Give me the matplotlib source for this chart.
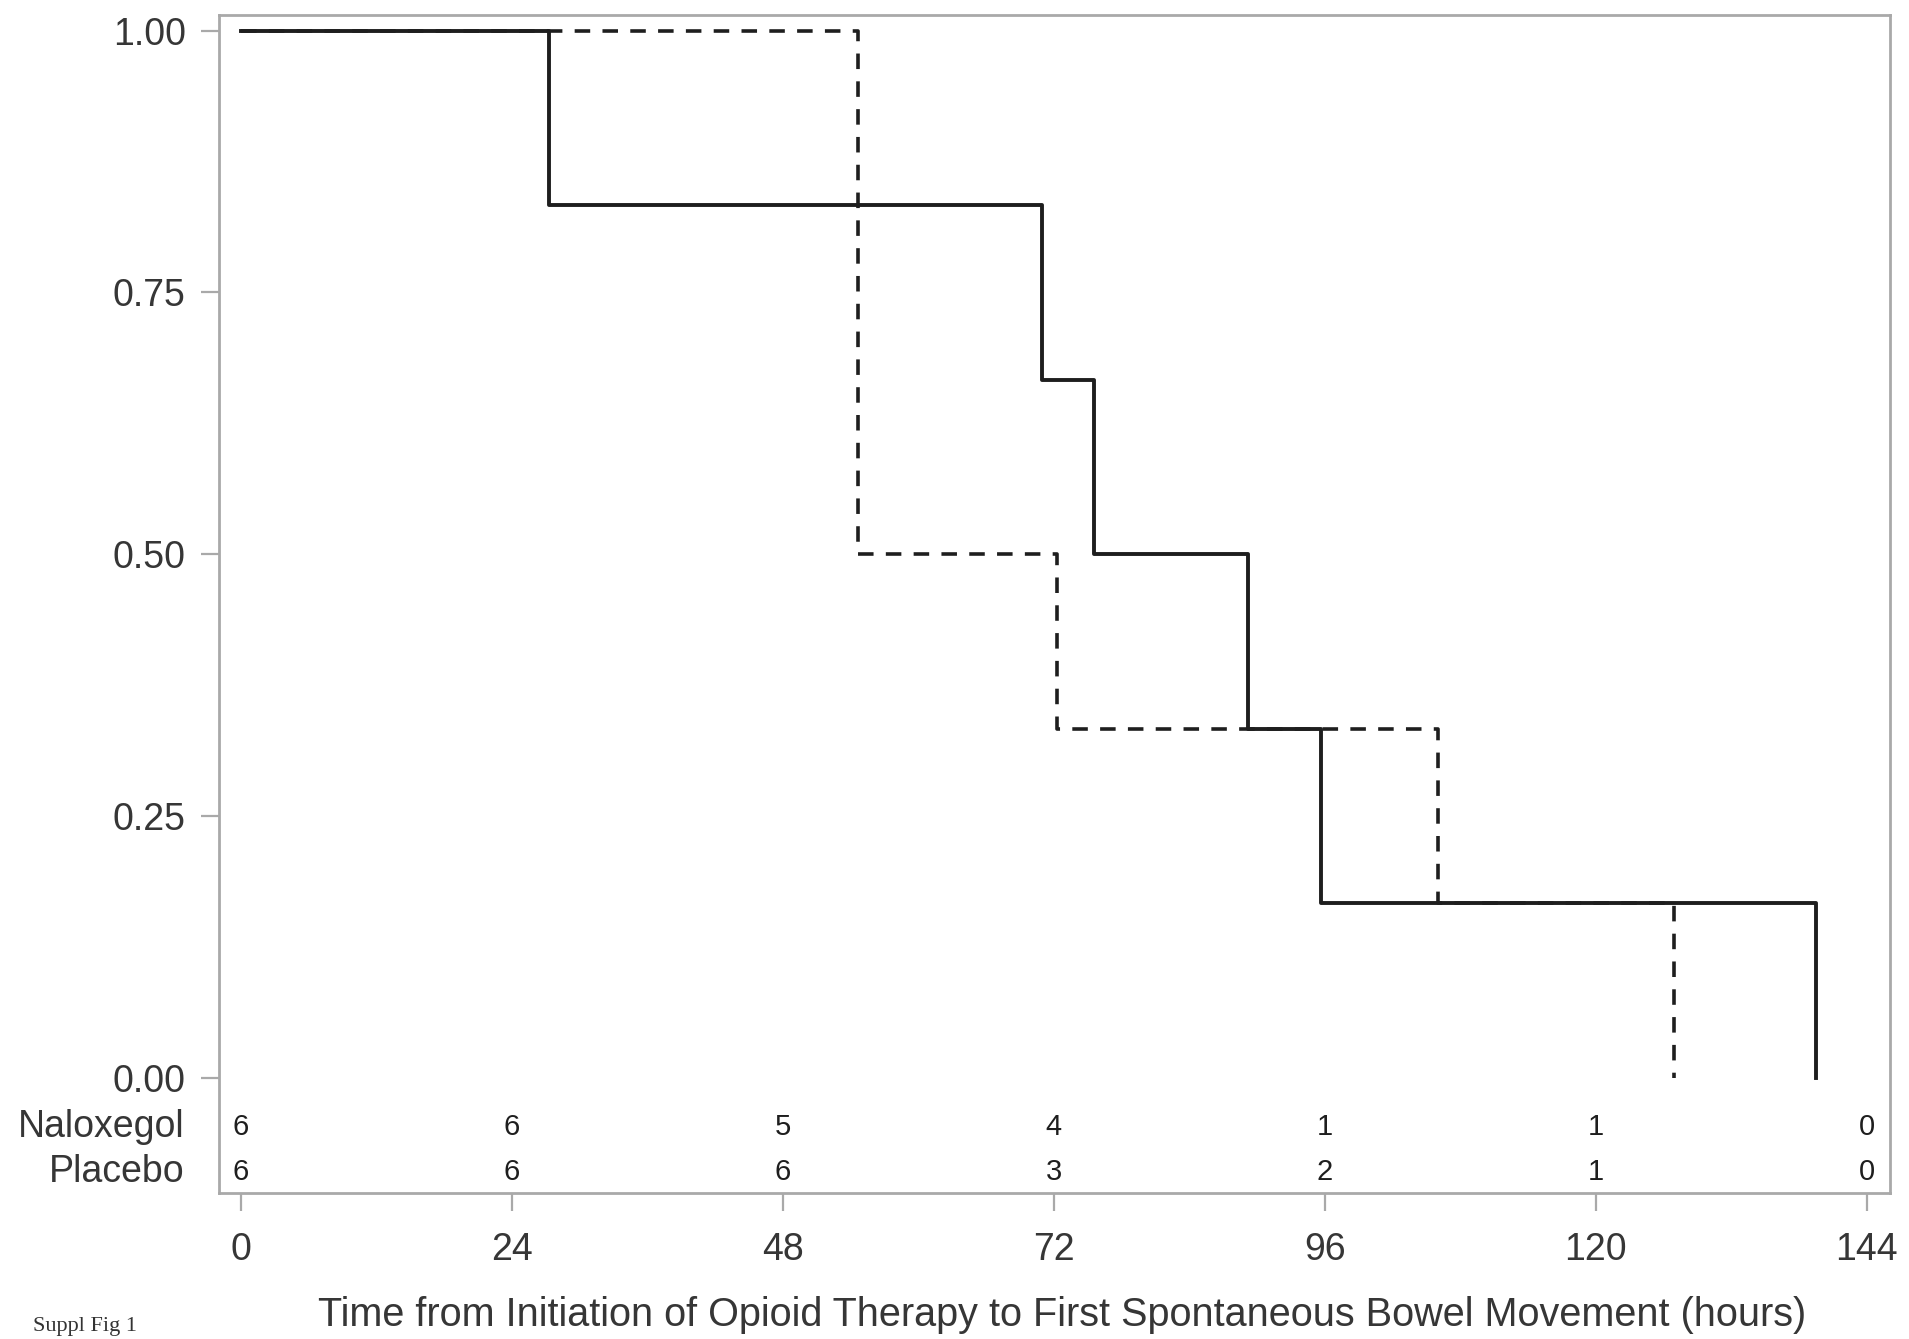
import matplotlib
matplotlib.use("Agg")
import matplotlib.pyplot as plt

# Kaplan-Meier step data (hours, survival)
naloxegol_time = [0, 27.3, 71.0, 75.6, 89.2, 95.7, 139.5]
naloxegol_surv = [1.0, 5 / 6, 4 / 6, 3 / 6, 2 / 6, 1 / 6, 0.0]
placebo_time = [0, 54.7, 72.3, 106.0, 126.9]
placebo_surv = [1.0, 3 / 6, 2 / 6, 1 / 6, 0.0]

# numbers at risk
risk_times = [0, 24, 48, 72, 96, 120, 144]
naloxegol_risk = [6, 6, 5, 4, 1, 1, 0]
placebo_risk = [6, 6, 6, 3, 2, 1, 0]
group_names = ["Naloxegol", "Placebo"]

x_ticks = [0, 24, 48, 72, 96, 120, 144]
y_ticks = [0.0, 0.25, 0.5, 0.75, 1.0]

plt.rcParams["font.family"] = ["Liberation Sans", "DejaVu Sans"]

fig = plt.figure(figsize=(19.09, 13.39), dpi=100)
ax = fig.add_axes([0.1147, 0.1090, 0.8753, 0.8798])

line_col = "#1e1e1e"
grey = "#a9a9a9"
text_col = "#363636"

ax.step(placebo_time, placebo_surv, where="post", color=line_col,
        linewidth=2.6, linestyle=(0, (4.3, 3.4)))
ax.step(naloxegol_time, naloxegol_surv, where="post", color=line_col,
        linewidth=2.8)

ax.set_xlim(-1.93, 146.06)
ax.set_ylim(-0.110, 1.015)

ax.set_xticks(x_ticks)
ax.set_yticks(y_ticks)
ax.set_yticklabels([f"{v:.2f}" for v in y_ticks])
ax.tick_params(axis="both", direction="out", length=13, width=1.6,
               color=grey, labelsize=27, labelcolor=text_col)
ax.tick_params(axis="y", pad=11)
ax.tick_params(axis="x", pad=15)

for s in ax.spines.values():
    s.set_color(grey)
    s.set_linewidth(2.0)

# at-risk table inside the axes
risk_rows = [(-0.047, naloxegol_risk), (-0.090, placebo_risk)]
for (ypos, counts), name in zip(risk_rows, group_names):
    for t, n in zip(risk_times, counts):
        ax.text(t, ypos, str(n), ha="center", va="center",
                fontsize=21, color=line_col)
    ax.annotate(name, xy=(0, ypos), xycoords=("axes fraction", "data"),
                xytext=(-25, 0), textcoords="offset points",
                ha="right", va="center", fontsize=27, color=text_col)

# axis title placed in figure coordinates
fig.text(0.5563, 0.0100,
         "Time from Initiation of Opioid Therapy to First Spontaneous Bowel Movement (hours)",
         fontsize=28.5, color=text_col, ha="center", va="baseline")

fig.text(0.0175, 0.006, "Suppl Fig 1", fontsize=16, family="Liberation Serif",
         color="#333333", ha="left", va="baseline")

fig.savefig("out.png", dpi=100, facecolor="white")
